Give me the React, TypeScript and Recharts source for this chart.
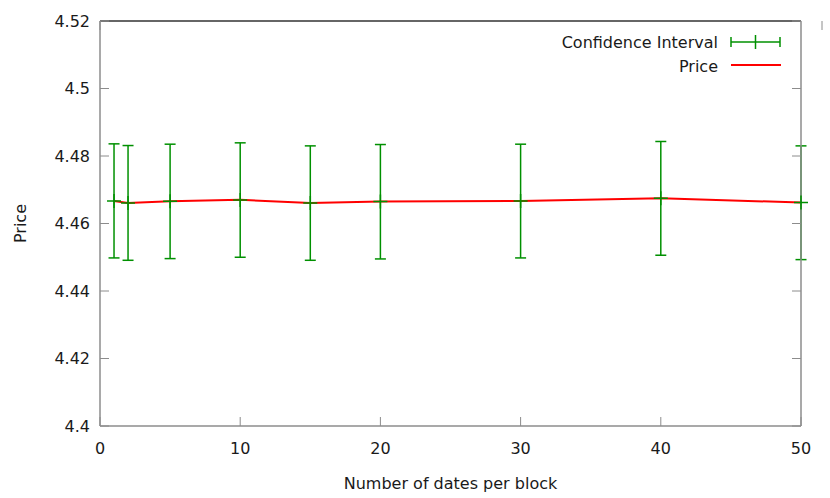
import { ComposedChart, Line, XAxis, YAxis, ErrorBar } from "recharts"

// keep the page from showing a scrollbar next to the chart
if (typeof document !== "undefined") {
  document.documentElement.style.overflow = "hidden"
  document.body.style.overflow = "hidden"
  document.body.style.margin = "0"
}

const blocks = [1, 2, 5, 10, 15, 20, 30, 40, 50]
const price = [4.4667, 4.4661, 4.4666, 4.467, 4.4661, 4.4665, 4.4667, 4.4675, 4.4662]
const ciLow = [4.4498, 4.4491, 4.4496, 4.45, 4.4491, 4.4495, 4.4498, 4.4506, 4.4493]
const ciHigh = [4.4836, 4.4831, 4.4835, 4.4839, 4.483, 4.4834, 4.4835, 4.4843, 4.483]

const xTicks = [0, 10, 20, 30, 40, 50]
const yTicks = [4.4, 4.42, 4.44, 4.46, 4.48, 4.5, 4.52]
const seriesNames = ["Confidence Interval", "Price"]

const data = blocks.map((b, i) => ({
  block: b,
  price: price[i],
  err: [price[i] - ciLow[i], ciHigh[i] - price[i]],
}))

const FONT = "'DejaVu Sans', sans-serif"
const GREEN = "#009000"
const RED = "#ff0000"
const BORDER = "#8c8c8c"
const TEXT = "#1a1a1a"
const TICK = 9

function LeftTick(p: any) {
  const ax = p.x + 10
  return (
    <g>
      <line x1={ax} x2={ax + TICK} y1={p.y} y2={p.y} stroke={BORDER} />
      <text x={p.x} y={p.y} textAnchor="end" dominantBaseline="central" fontSize={16} fill={TEXT} fontFamily={FONT}>
        {String(p.payload.value)}
      </text>
    </g>
  )
}

function RightTick(p: any) {
  return <line x1={p.x} x2={p.x - TICK} y1={p.y} y2={p.y} stroke={BORDER} />
}

function BottomTick(p: any) {
  return (
    <g>
      <line x1={p.x} x2={p.x} y1={p.y} y2={p.y - TICK} stroke={BORDER} />
      <text x={p.x} y={p.y + 22} textAnchor="middle" dominantBaseline="central" fontSize={16} fill={TEXT} fontFamily={FONT}>
        {String(p.payload.value)}
      </text>
    </g>
  )
}

function TopTick(p: any) {
  return <line x1={p.x} x2={p.x} y1={p.y} y2={p.y + TICK} stroke={BORDER} />
}

// gnuplot-style "+" point at the centre of each error bar
function CrossDot(p: any) {
  if (p.cx == null || p.cy == null) return <g key={p.key} />
  return (
    <g key={p.key}>
      <line x1={p.cx - 7} x2={p.cx + 7} y1={p.cy} y2={p.cy} stroke={GREEN} strokeWidth={1.5} />
      <line x1={p.cx} x2={p.cx} y1={p.cy - 7} y2={p.cy + 7} stroke={GREEN} strokeWidth={1.5} />
    </g>
  )
}

// gnuplot key, top right inside the plot
function KeyBox() {
  return (
    <svg width={250} height={60} style={{ position: "absolute", left: 540, top: 25, display: "block" }}>
      <text x={178} y={17} textAnchor="end" dominantBaseline="central" fontSize={16} fill={TEXT} fontFamily={FONT}>
        {seriesNames[0]}
      </text>
      <g stroke={GREEN} strokeWidth={1.5}>
        <line x1={191} x2={240} y1={17} y2={17} />
        <line x1={191} x2={191} y1={12} y2={22} />
        <line x1={240} x2={240} y1={12} y2={22} />
        <line x1={215.5} x2={215.5} y1={10} y2={24} />
      </g>
      <text x={178} y={41} textAnchor="end" dominantBaseline="central" fontSize={16} fill={TEXT} fontFamily={FONT}>
        {seriesNames[1]}
      </text>
      <line x1={191} x2={241} y1={40} y2={40} stroke={RED} strokeWidth={2} />
    </svg>
  )
}

export default function App() {
  return (
    <div style={{ position: "absolute", left: 0, top: 0, width: 830, height: 498, background: "#fff", overflow: "hidden" }}>
      <ComposedChart
        width={830}
        height={498}
        data={data}
        margin={{ top: 11, right: 19, bottom: 22, left: 10 }}
        style={{ fontFamily: FONT }}
      >
        <XAxis
          xAxisId="bottom"
          dataKey="block"
          type="number"
          domain={[0, 50]}
          ticks={xTicks}
          height={50}
          tickSize={0}
          tickMargin={0}
          tickLine={false}
          axisLine={{ stroke: BORDER, strokeWidth: 1.5 }}
          tick={BottomTick}
          label={{
            content: (lp: any) => {
              const vb = lp.viewBox
              return (
                <text x={vb.x + vb.width / 2} y={483} textAnchor="middle" dominantBaseline="central" fontSize={16} fill={TEXT} fontFamily={FONT}>
                  Number of dates per block
                </text>
              )
            },
          }}
        />
        <XAxis
          xAxisId="top"
          orientation="top"
          type="number"
          domain={[0, 50]}
          ticks={xTicks}
          height={10}
          tickSize={0}
          tickMargin={0}
          tickLine={false}
          axisLine={{ stroke: "#333", strokeWidth: 1.5 }}
          tick={TopTick}
        />
        <YAxis
          yAxisId="left"
          type="number"
          domain={[4.4, 4.52]}
          ticks={yTicks}
          allowDataOverflow
          width={90}
          tickSize={0}
          tickMargin={10}
          tickLine={false}
          axisLine={{ stroke: BORDER, strokeWidth: 1.5 }}
          tick={LeftTick}
          label={{
            content: (lp: any) => {
              const vb = lp.viewBox
              const cx = vb.x + 10
              const cy = vb.y + vb.height / 2
              return (
                <text x={cx} y={cy} transform={`rotate(-90, ${cx}, ${cy})`} textAnchor="middle" dominantBaseline="central" fontSize={16} fill={TEXT} fontFamily={FONT}>
                  Price
                </text>
              )
            },
          }}
        />
        <YAxis
          yAxisId="right"
          orientation="right"
          type="number"
          domain={[4.4, 4.52]}
          ticks={yTicks}
          allowDataOverflow
          width={10}
          tickSize={0}
          tickMargin={0}
          tickLine={false}
          axisLine={{ stroke: BORDER, strokeWidth: 1.5 }}
          tick={RightTick}
        />
        <Line
          xAxisId="bottom"
          yAxisId="left"
          name={seriesNames[0]}
          dataKey="price"
          stroke="none"
          dot={CrossDot}
          activeDot={false}
          isAnimationActive={false}
        >
          <ErrorBar dataKey="err" direction="y" width={5.5} stroke={GREEN} strokeWidth={1.5} isAnimationActive={false} />
        </Line>
        <Line
          xAxisId="bottom"
          yAxisId="left"
          name={seriesNames[1]}
          type="linear"
          dataKey="price"
          stroke={RED}
          strokeWidth={2}
          dot={false}
          activeDot={false}
          isAnimationActive={false}
        />
      </ComposedChart>
      <KeyBox />
    </div>
  )
}
